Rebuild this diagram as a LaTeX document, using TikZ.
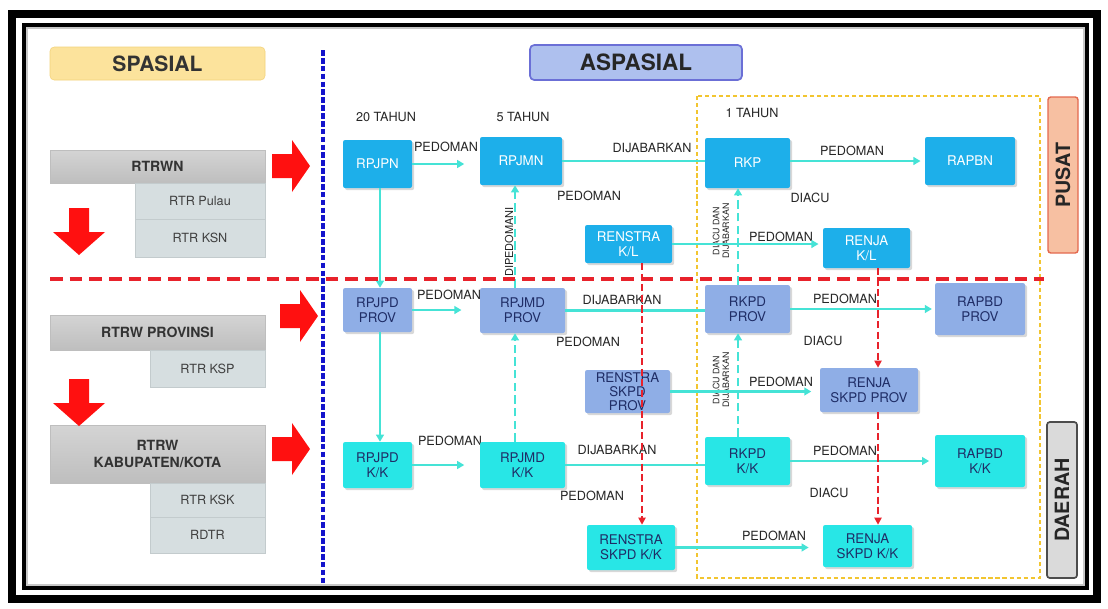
\documentclass[tikz,border=0pt]{standalone}
\usepackage{fontspec}
\setmainfont{TeX Gyre Heros}
\usetikzlibrary{arrows.meta,shadows,calc}

\definecolor{pusatfill}{HTML}{1DAFEA}
\definecolor{provfill}{HTML}{8FAEE6}
\definecolor{kkfill}{HTML}{28E6E6}
\definecolor{linkcol}{HTML}{45E3D6}
\definecolor{navytext}{HTML}{1F2D66}
\definecolor{labeltext}{HTML}{262626}
\definecolor{spasialfill}{HTML}{FCE39C}
\definecolor{spasialline}{HTML}{F3D27A}
\definecolor{aspasialfill}{HTML}{AEC0EE}
\definecolor{aspasialline}{HTML}{6B6FD6}
\definecolor{graytop}{HTML}{D4D4D4}
\definecolor{graybot}{HTML}{BEBEBE}
\definecolor{graysub}{HTML}{D6DEE0}
\definecolor{graysubline}{HTML}{C3CBCD}
\definecolor{pusatlab}{HTML}{F7C0A2}
\definecolor{pusatline}{HTML}{E4694F}
\definecolor{daerahlab}{HTML}{DADADA}
\definecolor{splitred}{HTML}{E8222B}
\definecolor{splitblue}{HTML}{1414CC}
\definecolor{yearbox}{HTML}{F2C530}
\definecolor{blockred}{HTML}{FF1010}

% one drawing unit = one pixel of the 1108 x 608 canvas
\def\px{0.025cm}

% rectangular node given by its corners: style, x1, y1, x2, y2, name, text
\newcommand\boxat[7]{%
  \node[#1, minimum width={(#4-#2)*\px}, minimum height={(#5-#3)*\px}]
    (#6) at ({(#2+#4)/2},{(#3+#5)/2}) {#7};}

% red block arrows: tip pointing right (left x, centre y) / down (centre x, top y)
\newcommand\blockright[2]{%
  \fill[blockred] (#1,#2-12) -- (#1+20,#2-12) -- (#1+20,#2-26) -- (#1+38,#2)
    -- (#1+20,#2+26) -- (#1+20,#2+12) -- (#1,#2+12) -- cycle;}
\newcommand\blockdown[2]{%
  \fill[blockred] (#1-10,#2) -- (#1+10,#2) -- (#1+10,#2+24) -- (#1+26,#2+24)
    -- (#1,#2+47) -- (#1-26,#2+24) -- (#1-10,#2+24) -- cycle;}

\tikzset{
  plan/.style={rounded corners=1.5pt, inner sep=1pt, align=center,
    font=\fontsize{9.5}{10.5}\selectfont,
    drop shadow={shadow xshift=1.5pt, shadow yshift=-1.5pt, opacity=0.3}},
  pusat/.style={plan, fill=pusatfill, text=white},
  prov/.style={plan, fill=provfill, text=navytext},
  kk/.style={plan, fill=kkfill, text=navytext},
  rtrw/.style={inner sep=1pt, align=center, top color=graytop, bottom color=graybot,
    draw=graybot, font=\bfseries\fontsize{10}{12}\selectfont, text=black!80,
    drop shadow={shadow xshift=1pt, shadow yshift=-1pt, opacity=0.25}},
  rtrsub/.style={inner sep=1pt, fill=graysub, draw=graysubline,
    font=\fontsize{9}{10}\selectfont, text=black!75,
    drop shadow={shadow xshift=1pt, shadow yshift=-1pt, opacity=0.25}},
  lbl/.style={font=\fontsize{9}{10}\selectfont, text=labeltext, inner sep=0pt},
  tiny/.style={font=\fontsize{6.3}{6.8}\selectfont, text=labeltext, inner sep=0pt,
    align=center, rotate=90},
  link/.style={draw=linkcol, line width=2pt},
  linkarrow/.style={link, -{Triangle[length=5pt,width=5.5pt]}},
  linkdash/.style={link, dash pattern=on 6pt off 3pt, -{Triangle[length=5pt,width=5.5pt]}},
  redlink/.style={draw=splitred, line width=1.6pt, dash pattern=on 5pt off 2.5pt,
    -{Triangle[length=5pt,width=5pt]}},
  sidebox/.style={rounded corners=2pt, inner sep=0pt},
  sidetext/.style={inner sep=0pt, rotate=90, text=black!85,
    font=\bfseries\fontsize{14}{16}\selectfont},
}

\begin{document}
\begin{tikzpicture}[x=\px, y=-\px]
\useasboundingbox (0,0) rectangle (1108,608);
\fill[white] (0,0) rectangle (1108,608);

% double frame
\draw[line width=6pt] (12,14) rectangle (1097,599);
\draw[black!22, line width=2pt] (27,28) rectangle (1084,585);
\draw[line width=2.2pt] (24,25) rectangle (1087,588);

% one-year planning area
\draw[yearbox, line width=1.2pt, dash pattern=on 3pt off 2pt] (697,96) rectangle (1040,578);

% headers
\boxat{rounded corners=3pt, fill=spasialfill, draw=spasialline, font=\bfseries\fontsize{15}{16}\selectfont, text=black!80}{50}{47}{265}{80}{spasial}{SPASIAL}
\boxat{rounded corners=3pt, fill=aspasialfill, draw=aspasialline, line width=1.2pt, font=\bfseries\fontsize{16}{17}\selectfont, text=black!85}{530}{45}{742}{80}{aspasial}{ASPASIAL}

% level labels
\boxat{sidebox, fill=pusatlab, draw=pusatline, line width=1pt}{1048}{97}{1078}{253}{pusat}{}
\node[sidetext] (pusattxt) at (pusat.center) {PUSAT};
\boxat{sidebox, fill=daerahlab, draw=black!70, line width=1.2pt}{1047}{422}{1077}{578}{daerah}{}
\node[sidetext] (daerahtxt) at (daerah.center) {DAERAH};

% spatial plans
\boxat{rtrw}{50}{150}{265}{183}{rtrwn}{RTRWN}
\boxat{rtrsub}{135}{183}{265}{219}{pulau}{RTR Pulau}
\boxat{rtrsub}{135}{219}{265}{257}{ksn}{RTR KSN}
\boxat{rtrw}{50}{315}{265}{350}{rtrwp}{RTRW PROVINSI}
\boxat{rtrsub}{150}{350}{265}{387}{ksp}{RTR KSP}
\boxat{rtrw}{50}{425}{265}{483}{rtrwk}{RTRW\\KABUPATEN/KOTA}
\boxat{rtrsub}{150}{483}{265}{517}{ksk}{RTR KSK}
\boxat{rtrsub}{150}{517}{265}{553}{rdtr}{RDTR}

\blockright{272}{166}
\blockright{280}{316}
\blockright{272}{449}
\blockdown{79}{208}
\blockdown{79}{379}

% period labels
\node[lbl] (t20) at (386,117) {20 TAHUN};
\node[lbl] (t5) at (523,117) {5 TAHUN};
\node[lbl] (t1) at (752,113) {1 TAHUN};

% connector labels
\node[lbl] (l1) at (446,147) {PEDOMAN};
\node[lbl] (l2) at (652,148) {DIJABARKAN};
\node[lbl] (l3) at (589,196) {PEDOMAN};
\node[lbl] (l4) at (852,151) {PEDOMAN};
\node[lbl] (l5) at (810,198) {DIACU};
\node[lbl] (l6) at (781,237) {PEDOMAN};
\node[lbl] (l7) at (449,295) {PEDOMAN};
\node[lbl] (l8) at (622,300) {DIJABARKAN};
\node[lbl] (l9) at (588,342) {PEDOMAN};
\node[lbl] (l10) at (845,299) {PEDOMAN};
\node[lbl] (l11) at (823,341) {DIACU};
\node[lbl] (l12) at (781,382) {PEDOMAN};
\node[lbl] (l13) at (450,441) {PEDOMAN};
\node[lbl] (l14) at (617,450) {DIJABARKAN};
\node[lbl] (l15) at (592,496) {PEDOMAN};
\node[lbl] (l16) at (845,451) {PEDOMAN};
\node[lbl] (l17) at (829,493) {DIACU};
\node[lbl] (l18) at (774,536) {PEDOMAN};
\node[tiny, font=\fontsize{7.8}{8}\selectfont] (dip) at (509,242) {DIPEDOMANI};
\node[tiny] (dd1) at (721,231) {DIACU DAN\\DIJABARKAN};
\node[tiny] (dd2) at (721,380) {DIACU DAN\\DIJABARKAN};

% vertical guide positions
\coordinate (xa) at (380,0);
\coordinate (xb) at (515,0);
\coordinate (xc) at (738,0);
\coordinate (xr1) at (642,0);
\coordinate (xr2) at (878,0);

% planning documents
\boxat{pusat}{343}{140}{412}{188}{rpjpn}{RPJPN}
\boxat{pusat}{480}{137}{562}{185}{rpjmn}{RPJMN}
\boxat{pusat}{705}{138}{790}{188}{rkp}{RKP}
\boxat{pusat}{925}{137}{1015}{185}{rapbn}{RAPBN}
\boxat{pusat}{585}{225}{672}{263}{renstrakl}{RENSTRA\\K/L}
\boxat{pusat}{823}{228}{910}{268}{renjakl}{RENJA\\K/L}

\boxat{prov}{343}{288}{412}{332}{rpjpdprov}{RPJPD\\PROV}
\boxat{prov}{480}{288}{565}{333}{rpjmdprov}{RPJMD\\PROV}
\boxat{prov}{705}{285}{790}{333}{rkpdprov}{RKPD\\PROV}
\boxat{prov}{935}{283}{1025}{335}{rapbdprov}{RAPBD\\PROV}
\boxat{prov, font=\fontsize{9.5}{9.8}\selectfont}{585}{370}{670}{413}{renstraprov}{RENSTRA\\SKPD\\PROV}
\boxat{prov}{820}{368}{918}{412}{renjaprov}{RENJA\\SKPD PROV}

\boxat{kk}{343}{442}{412}{488}{rpjpdkk}{RPJPD\\K/K}
\boxat{kk}{480}{442}{565}{488}{rpjmdkk}{RPJMD\\K/K}
\boxat{kk}{705}{437}{790}{485}{rkpdkk}{RKPD\\K/K}
\boxat{kk}{935}{435}{1025}{487}{rapbdkk}{RAPBD\\K/K}
\boxat{kk}{587}{525}{675}{570}{renstrakk}{RENSTRA\\SKPD K/K}
\boxat{kk}{823}{525}{912}{567}{renjakk}{RENJA\\SKPD K/K}

% horizontal links
\draw[linkarrow, shorten >=11pt] (rpjpn.east) -- (rpjpn.east -| rpjmn.west);
\draw[link] (rpjmn.east) -- (rpjmn.east -| rkp.west);
\draw[linkarrow, shorten >=3pt] (rapbn.west -| rkp.east) -- (rapbn.west);
\draw[linkarrow, shorten >=3pt] (renstrakl.east) -- (renstrakl.east -| renjakl.west);

\draw[linkarrow, shorten >=13pt] (rpjpdprov.east) -- (rpjpdprov.east -| rpjmdprov.west);
\draw[link] (rpjmdprov.east) -- (rpjmdprov.east -| rkpdprov.west);
\draw[linkarrow, shorten >=2pt] (rkpdprov.east) -- (rkpdprov.east -| rapbdprov.west);
\draw[linkarrow, shorten >=6pt] (renstraprov.east) -- (renstraprov.east -| renjaprov.west);

\draw[linkarrow, shorten >=11pt] (rpjpdkk.east) -- (rpjpdkk.east -| rpjmdkk.west);
\draw[link] (rpjmdkk.east) -- (rpjmdkk.east -| rkpdkk.west);
\draw[linkarrow, shorten >=4pt] (rkpdkk.east) -- (rkpdkk.east -| rapbdkk.west);
\draw[linkarrow, shorten >=10pt] (renstrakk.east) -- (renstrakk.east -| renjakk.west);

% vertical links
\draw[linkarrow] (rpjpn.south -| xa) -- (rpjpdprov.north -| xa);
\draw[linkarrow] (rpjpdprov.south -| xa) -- (rpjpdkk.north -| xa);
\draw[linkdash] (rpjmdprov.north -| xb) -- (rpjmn.south -| xb);
\draw[linkdash] (rpjmdkk.north -| xb) -- (rpjmdprov.south -| xb);
\draw[linkdash] (rkpdprov.north -| xc) -- (rkp.south -| xc);
\draw[linkdash] (rkpdkk.north -| xc) -- (rkpdprov.south -| xc);

% regional work-plan links
\draw[redlink] (renstrakl.south -| xr1) -- (renstrakk.north -| xr1);
\draw[redlink] (renjakl.south -| xr2) -- (renjaprov.north -| xr2);
\draw[redlink] (renjaprov.south -| xr2) -- (renjakk.north -| xr2);

% central / regional split and spatial / non-spatial split
\draw[splitred, line width=2.4pt, dash pattern=on 9pt off 5pt] (50,279) -- (1044,279);
\draw[splitblue, line width=2.6pt, dash pattern=on 4pt off 1.6pt] (323,50) -- (323,583);
\end{tikzpicture}
\end{document}
